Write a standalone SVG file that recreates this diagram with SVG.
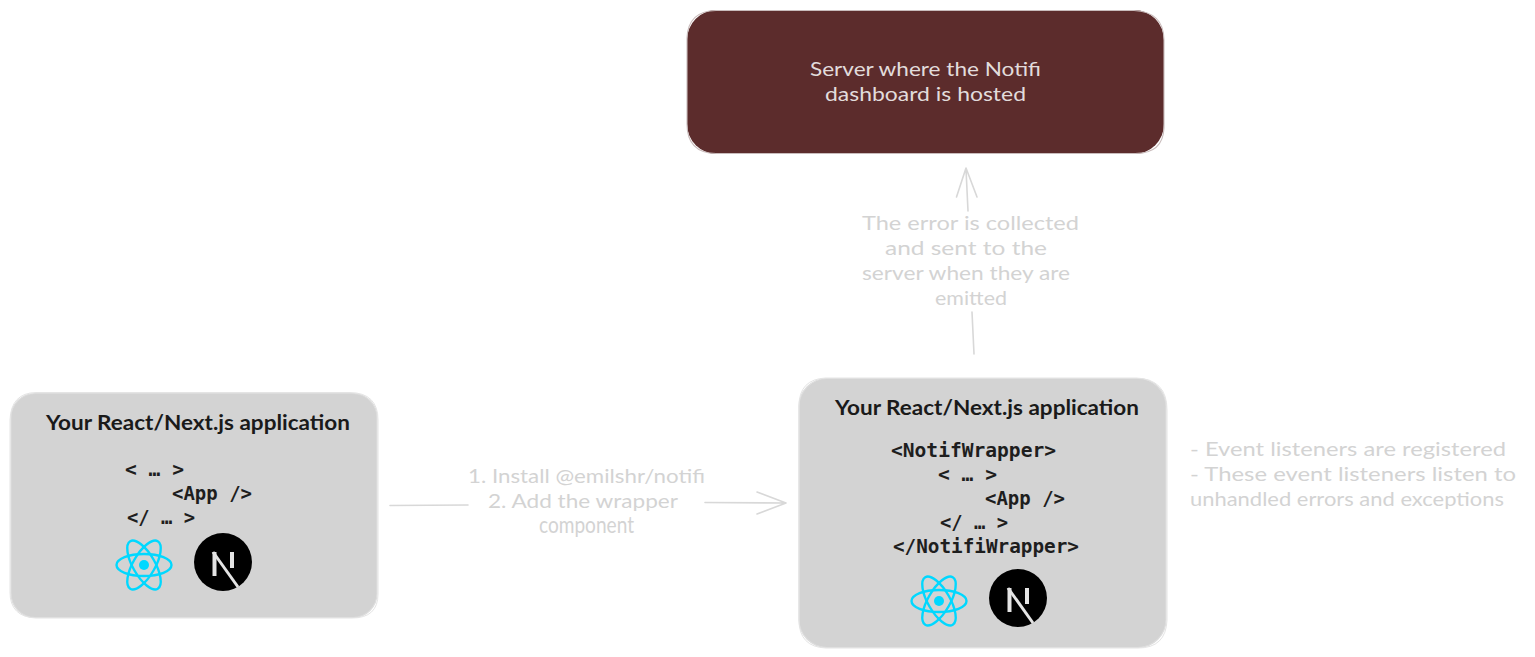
<svg xmlns="http://www.w3.org/2000/svg" width="1535" height="657" viewBox="0 0 1535 657">
<style>
.box{fill:#d3d3d3;stroke:#dcdcdc;stroke-width:1.2}
.sk{fill:none;stroke:#e4e4e4;stroke-width:1}
.srv{fill:#5c2c2c;stroke:none}
.srvsk{fill:none;stroke:#c9bcbc;stroke-width:1.1}
.hand{font-family:"Lato","Open Sans",sans-serif;font-size:20px}
.dark{fill:#1a1a1a;font-weight:700}
.soft{fill:#d3d3d3}
.lite{fill:#e2dcdc}
.code{font-family:"DejaVu Sans Mono","Liberation Mono",monospace;font-size:19.5px;font-weight:700;fill:#1e1e1e}
.conn{fill:none;stroke:#d8d8d8;stroke-width:1.6;stroke-linecap:round;stroke-linejoin:round}
.atom{fill:none;stroke:#00d8ff;stroke-width:2.4}
.nbar{fill:none;stroke:#e4e4e4;stroke-width:4}
</style>
<defs>
<g id="react">
<ellipse class="atom" rx="27.500" ry="11"/>
<ellipse class="atom" rx="27.500" ry="11" transform="rotate(60)"/>
<ellipse class="atom" rx="27.500" ry="11" transform="rotate(120)"/>
<circle r="5" fill="#00d8ff"/>
</g>
<g id="next">
<circle r="29" fill="#000"/>
<path class="nbar" d="M-8.500 -10V14M9 -10V6"/>
<path fill="none" stroke="#e4e4e4" stroke-width="3" d="M-10 -10L15 25"/>
</g>
</defs>
<g id="connectors">
<path class="conn" d="M390 505.500L468 505"/>
<path class="conn" d="M705 502.500L785 503M757 492L786 503L757 514"/>
<path class="conn" d="M974 354L972 312"/>
<path class="conn" d="M968 211L966 169M956.500 197L966 168L977 197"/>
</g>
<g id="server-node">
<rect class="srv" x="687" y="10" width="477" height="144" rx="30"/>
<path class="srvsk" d="M716 10.500H1134Q1164 12 1164 40V128Q1163 154 1134 153.500H716Q687 153 687 124V38Q688 11 716 10.500Z"/>
<text class="hand lite" x="810" y="76" textLength="231" lengthAdjust="spacingAndGlyphs">Server where the Notifi</text>
<text class="hand lite" x="825" y="101" textLength="201" lengthAdjust="spacingAndGlyphs">dashboard is hosted</text>
</g>
<g id="app-before">
<rect class="box" x="11" y="393.500" width="366" height="224" rx="24"/>
<path class="sk" d="M36 392.500H350Q378 393 378 420V594Q378 618 352 618H36Q10 617 10 592V420Q11 393 36 392.500Z"/>
<text class="hand dark" x="46" y="430" textLength="304" lengthAdjust="spacingAndGlyphs">Your React/Next.js application</text>
<text class="code" x="125" y="476" textLength="59" lengthAdjust="spacingAndGlyphs">&lt; … &gt;</text>
<text class="code" x="172" y="500" textLength="80" lengthAdjust="spacingAndGlyphs">&lt;App /&gt;</text>
<text class="code" x="127" y="524" textLength="68" lengthAdjust="spacingAndGlyphs">&lt;/ … &gt;</text>
<use href="#react" x="144" y="565"/>
<use href="#next" x="223" y="562"/>
</g>
<g id="install-label">
<text class="hand soft" x="468" y="483" textLength="237" lengthAdjust="spacingAndGlyphs">1. Install @emilshr/notifi</text>
<text class="hand soft" x="488" y="508" textLength="190" lengthAdjust="spacingAndGlyphs">2. Add the wrapper</text>
<text class="hand soft" x="539" y="533" font-size="22" style="font-size:22.5px" textLength="95" lengthAdjust="spacingAndGlyphs">component</text>
</g>
<g id="app-after">
<rect class="box" x="799" y="378.500" width="367" height="269" rx="28"/>
<path class="sk" d="M826 378H1136Q1167 379 1167 410V620Q1166 648 1138 648H826Q799 647 799 620V406Q799 379 826 378Z"/>
<text class="hand dark" x="835" y="415" textLength="304" lengthAdjust="spacingAndGlyphs">Your React/Next.js application</text>
<text class="code" x="891" y="457" textLength="165" lengthAdjust="spacingAndGlyphs">&lt;NotifWrapper&gt;</text>
<text class="code" x="938" y="481" textLength="59" lengthAdjust="spacingAndGlyphs">&lt; … &gt;</text>
<text class="code" x="985" y="505" textLength="80" lengthAdjust="spacingAndGlyphs">&lt;App /&gt;</text>
<text class="code" x="940" y="529" textLength="68" lengthAdjust="spacingAndGlyphs">&lt;/ … &gt;</text>
<text class="code" x="893" y="553" textLength="186" lengthAdjust="spacingAndGlyphs">&lt;/NotifiWrapper&gt;</text>
<use href="#react" x="939" y="601"/>
<use href="#next" x="1018" y="598"/>
</g>
<g id="error-label">
<text class="hand soft" x="862" y="230" textLength="217" lengthAdjust="spacingAndGlyphs">The error is collected</text>
<text class="hand soft" x="885" y="255" textLength="162" lengthAdjust="spacingAndGlyphs">and sent to the</text>
<text class="hand soft" x="862" y="280" textLength="208" lengthAdjust="spacingAndGlyphs">server when they are</text>
<text class="hand soft" x="935" y="305" textLength="72" lengthAdjust="spacingAndGlyphs">emitted</text>
</g>
<g id="listeners-note">
<text class="hand soft" x="1190" y="456" textLength="316" lengthAdjust="spacingAndGlyphs">- Event listeners are registered</text>
<text class="hand soft" x="1190" y="481" textLength="326" lengthAdjust="spacingAndGlyphs">- These event listeners listen to</text>
<text class="hand soft" x="1190" y="506" textLength="314" lengthAdjust="spacingAndGlyphs">unhandled errors and exceptions</text>
</g>
</svg>
